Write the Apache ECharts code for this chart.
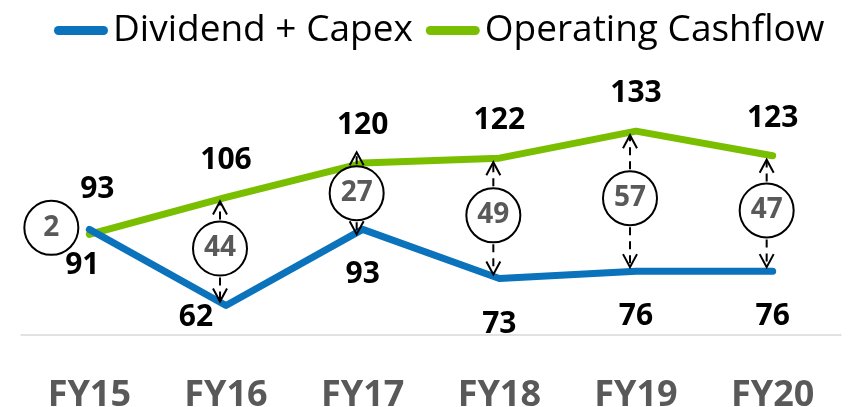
<!DOCTYPE html>
<html>
<head>
<meta charset="utf-8">
<script src="https://cdn.jsdelivr.net/npm/echarts@6/dist/echarts.min.js"></script>
<style>
  html, body { margin: 0; padding: 0; background: #fff; }
  #main { width: 848px; height: 407px; }
</style>
</head>
<body>
<div id="main"></div>
<script>
// values
const categories = ['FY15', 'FY16', 'FY17', 'FY18', 'FY19', 'FY20'];
const dividendCapex = [93, 62, 93, 73, 76, 76];
const operatingCashflow = [91, 106, 120, 122, 133, 123];
const gaps = [2, 44, 27, 49, 57, 47];

const BLUE = '#0B72BC';
const GREEN = '#79BF00';
const FONT = '"Open Sans", "Noto Sans", sans-serif';

const myChart = echarts.init(document.getElementById('main'));

const valueLabel = {
  show: true,
  color: '#000',
  fontFamily: FONT,
  fontWeight: 'bold',
  fontSize: 30
};

// blue labels sit under the line, except the first two which were moved by hand
const blueData = dividendCapex.map((v, i) => {
  if (i === 0) return { value: v, label: { position: 'top', distance: 24 } };
  if (i === 1) return { value: v, label: { position: 'bottom', distance: 0 } };
  return { value: v, label: { position: 'bottom', distance: 30 } };
});
const greenData = operatingCashflow.map((v, i) => {
  if (i === 0) return { value: v, label: { position: 'bottom', distance: 16 } };
  return { value: v, label: { position: 'top', distance: 22 } };
});

function blueNudge(params) {
  if (params.dataIndex === 0) return { dx: 8, dy: 0 };
  if (params.dataIndex === 1) return { dx: -30, dy: -4 };
  return {};
}
function greenNudge(params) {
  if (params.dataIndex === 0) return { dx: -7, dy: 0 };
  return {};
}

const gapData = categories.map((c, i) => [i, dividendCapex[i], operatingCashflow[i], gaps[i]]);

function renderGap(params, api) {
  const idx = api.value(0);
  const low = api.value(1);
  const high = api.value(2);
  const gap = api.value(3);
  const pl = api.coord([idx, low]);
  const ph = api.coord([idx, high]);
  const r = 27;
  const children = [];
  let cx, cy;
  if (Math.abs(high - low) < 5) {
    // too small for arrows, circle sits left of the point
    cx = pl[0] - 38;
    cy = (pl[1] + ph[1]) / 2 - 4;
  } else {
    cx = pl[0] - 6;
    cy = (pl[1] + ph[1]) / 2 - 3;
    const stroke = { stroke: '#000', lineWidth: 2, fill: null };
    const dash = { stroke: '#000', lineWidth: 2, lineDash: [8, 6], fill: null };
    // up arrow to the green line
    const topTip = Math.min(ph[1] + 4, cy - r - 14);
    if (cy - r - 2 > topTip + 4) {
      children.push({ type: 'line', shape: { x1: cx, y1: cy - r - 2, x2: cx, y2: topTip + 2 }, style: dash });
    }
    children.push({ type: 'polyline', shape: { points: [[cx - 7, topTip + 13], [cx, topTip], [cx + 7, topTip + 13]] }, style: stroke });
    // down arrow to the blue line
    const botTip = Math.max(pl[1] - 4, cy + r + 14);
    if (botTip - 4 > cy + r + 2) {
      children.push({ type: 'line', shape: { x1: cx, y1: cy + r + 2, x2: cx, y2: botTip - 2 }, style: dash });
    }
    children.push({ type: 'polyline', shape: { points: [[cx - 7, botTip - 13], [cx, botTip], [cx + 7, botTip - 13]] }, style: stroke });
  }
  children.push({
    type: 'circle',
    shape: { cx: cx, cy: cy, r: r },
    style: { fill: '#fff', stroke: '#000', lineWidth: 2 }
  });
  children.push({
    type: 'text',
    x: cx,
    y: cy,
    style: {
      text: String(gap),
      fill: '#595959',
      font: 'bold 28px ' + FONT,
      align: 'center',
      verticalAlign: 'middle'
    }
  });
  return { type: 'group', children: children };
}

myChart.setOption({
  animation: false,
  backgroundColor: '#fff',
  legend: {
    left: 49,
    top: 7,
    itemWidth: 58,
    itemHeight: 9,
    itemGap: 13,
    textStyle: { color: '#000', fontFamily: FONT, fontSize: 37, padding: [0, 0, 0, -2] },
    data: [
      { name: 'Dividend + Capex', icon: 'path://M5,0H55A5,5,0,0,1,55,10H5A5,5,0,0,1,5,0Z' },
      { name: 'Operating Cashflow', icon: 'path://M5,0H55A5,5,0,0,1,55,10H5A5,5,0,0,1,5,0Z' }
    ]
  },
  grid: {
    left: 21,
    right: 7,
    top: 89.4,
    bottom: 72,
    outerBoundsMode: 'none'
  },
  xAxis: {
    type: 'category',
    data: categories,
    boundaryGap: true,
    axisTick: { show: false },
    axisLine: { lineStyle: { color: '#D9D9D9', width: 1.5 } },
    axisLabel: {
      color: '#595959',
      fontFamily: FONT,
      fontWeight: 'bold',
      fontSize: 36,
      margin: 43
    }
  },
  yAxis: {
    type: 'value',
    min: 50,
    max: 150,
    show: false,
    splitLine: { show: false }
  },
  series: [
    {
      name: 'Dividend + Capex',
      type: 'line',
      data: blueData,
      symbol: 'circle',
      symbolSize: 1,
      showSymbol: true,
      color: BLUE,
      itemStyle: { color: BLUE },
      lineStyle: { width: 7, color: BLUE, cap: 'round', join: 'round' },
      label: valueLabel,
      labelLayout: blueNudge,
      z: 3
    },
    {
      name: 'Operating Cashflow',
      type: 'line',
      data: greenData,
      symbol: 'circle',
      symbolSize: 1,
      showSymbol: true,
      color: GREEN,
      itemStyle: { color: GREEN },
      lineStyle: { width: 7, color: GREEN, cap: 'round', join: 'round' },
      label: valueLabel,
      labelLayout: greenNudge,
      z: 2
    },
    {
      name: 'gap',
      type: 'custom',
      data: gapData,
      renderItem: renderGap,
      z: 5,
      silent: true
    }
  ]
});

window.addEventListener('resize', () => {
  myChart.resize();
});
</script>
</body>
</html>
